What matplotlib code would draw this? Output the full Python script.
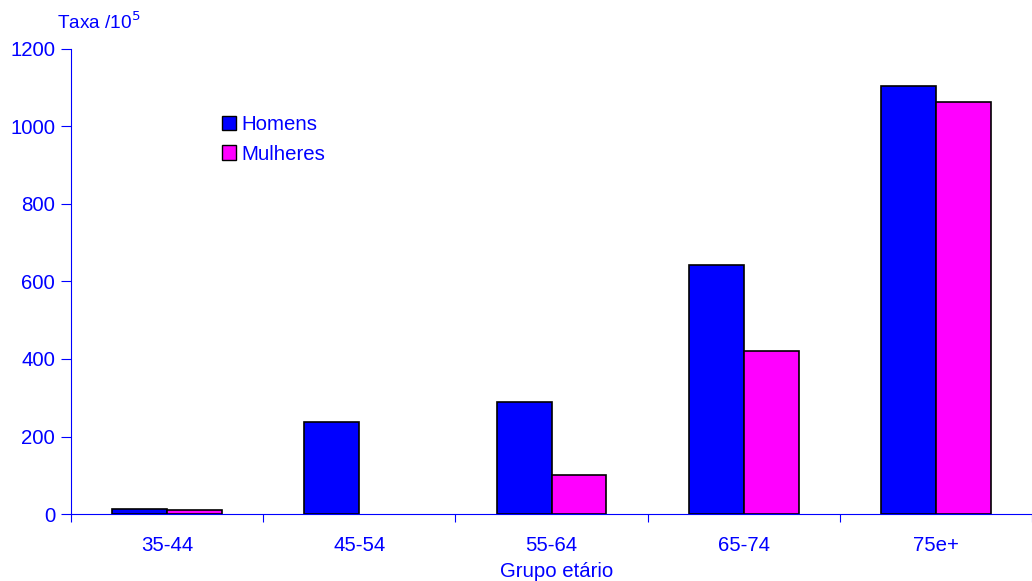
import numpy as np
import matplotlib.pyplot as plt
from matplotlib.patches import Patch

plt.rcParams['font.family'] = ['Liberation Sans', 'DejaVu Sans']

## Data ##
grupos = ['35-44', '45-54', '55-64', '65-74', '75e+']
homens = [12, 237, 289, 643, 1105]
mulheres = [11, 0, 100, 421, 1063]

blue = '#0000ff'
magenta = '#ff00ff'
fs = 14.7

fig = plt.figure(figsize=(10.32, 5.81), dpi=100)
ax = fig.add_axes([0.0688, 0.1153, 0.9312, 0.8004])

x = np.arange(len(grupos))
w = 0.286
b1 = ax.bar(x - w / 2, homens, w, color=blue, edgecolor='black', linewidth=1.2)
b2 = ax.bar(x + w / 2, mulheres, w, color=magenta, edgecolor='black', linewidth=1.2)
# no outline for empty bars
for rect in list(b1) + list(b2):
    if rect.get_height() == 0:
        rect.set_visible(False)

ax.set_xlim(-0.5, len(grupos) - 0.5)
ax.set_ylim(0, 1200)
ax.set_yticks(range(0, 1201, 200))
ax.set_xticks(np.arange(-0.5, len(grupos), 1.0))
ax.set_xticklabels([])
ax.set_xticks(x, minor=True)
ax.set_xticklabels(grupos, minor=True)
ax.tick_params(axis='x', which='minor', length=0, pad=16, labelsize=fs, labelcolor=blue)
ax.tick_params(axis='x', which='major', length=6, color=blue, direction='out')
ax.tick_params(axis='y', length=7, color=blue, direction='out', labelsize=fs, labelcolor=blue, pad=4.5)

for s in ['top', 'right']:
    ax.spines[s].set_visible(False)
for s in ['left', 'bottom']:
    ax.spines[s].set_color(blue)

handles = [Patch(facecolor=blue, edgecolor='black', label='Homens'),
           Patch(facecolor=magenta, edgecolor='black', label='Mulheres')]
leg = fig.legend(handles=handles, loc='upper left', bbox_to_anchor=(0.197, 0.833),
                 frameon=False, fontsize=fs, handlelength=0.7, handleheight=0.7,
                 handletextpad=0.25, labelspacing=0.5, labelcolor=blue)

fig.text(0.055, 0.962, 'Taxa /10$^5$', color=blue, fontsize=13.7, va='center')
fig.text(0.539, 0.016, 'Grupo etário', color=blue, fontsize=fs, ha='center', va='center')

fig.savefig('out.png', dpi=100)
